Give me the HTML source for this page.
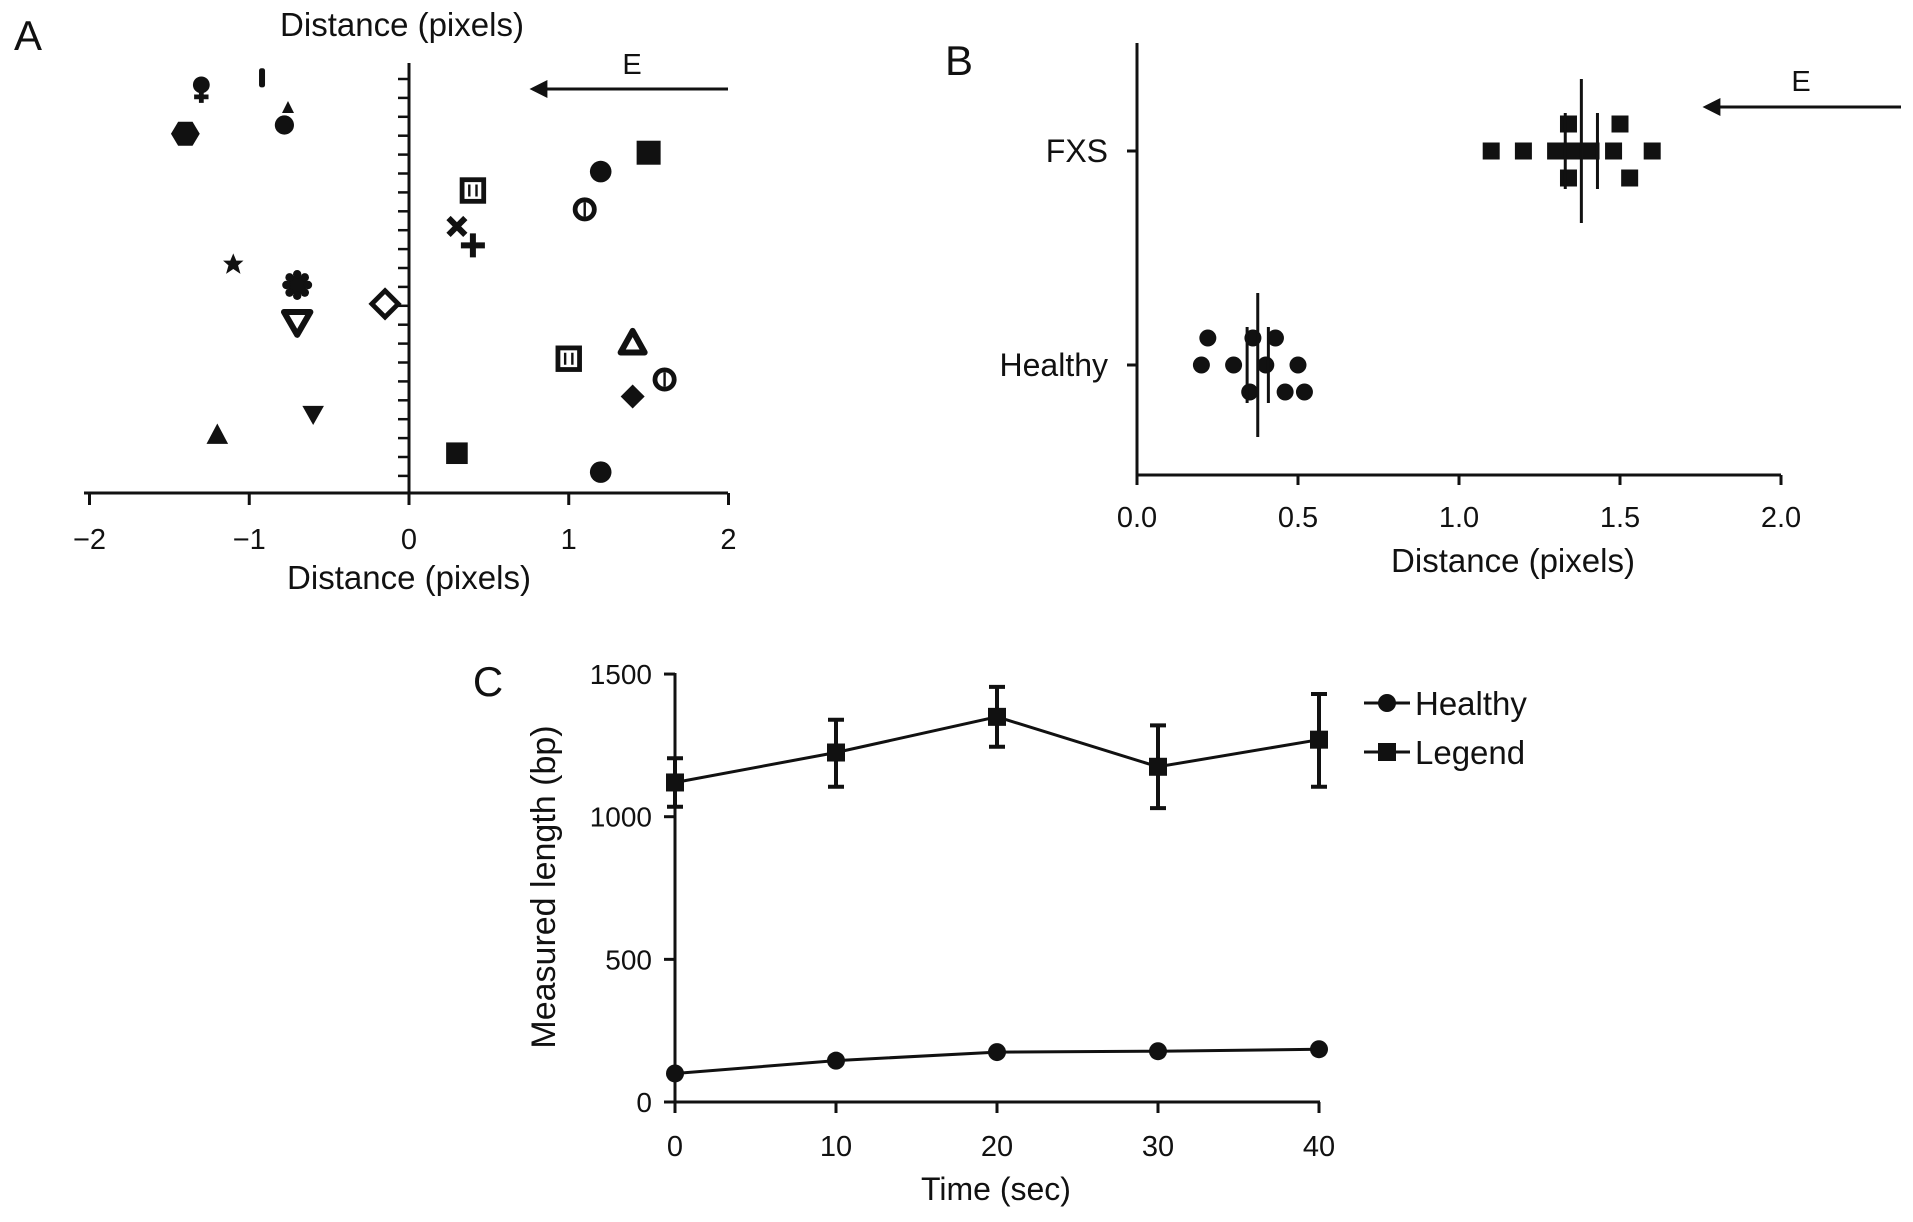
<!DOCTYPE html>
<html><head><meta charset="utf-8"><style>
html,body{margin:0;padding:0;background:#fff;}
svg{display:block;font-family:"Liberation Sans",Arial,sans-serif;}
text{fill:#111;}
</style></head><body>
<svg id="fig" xmlns="http://www.w3.org/2000/svg" width="1913" height="1222" viewBox="0 0 1913 1222">
<defs><marker id="ah" viewBox="0 0 10 10" refX="8" refY="5" markerWidth="6" markerHeight="6" orient="auto"><path d="M0,0 L10,5 L0,10 z" fill="#111"/></marker></defs>
<g id="pa"></g>
<g id="pb"></g>
<g id="pc"></g>
</svg>
<script>
// Panel A data
const aX = [-1.3,-0.92,-0.78,-1.4,-1.1,-0.7,-0.7,-0.15,-0.6,-1.2,1.5,1.2,0.4,1.1,0.3,0.4,1.4,1.0,1.6,1.4,0.3,1.2];
const aY = [0.5,0,1.8,2.9,9.8,10.9,12.9,11.9,17.8,18.8,3.9,4.9,5.9,6.9,7.8,8.8,13.9,14.8,15.9,16.8,19.8,20.8];
const aShape = ['femcircle','bar','club','hex','star','gear','tridownopen','diamondopen','tridown','triup','squaredot','circle','squareopen','circleopen','x','plus','triupopen','squareopen','circleopen','diamond','square','circle'];
const aXTicks = [-2,-1,0,1,2];
// Panel B data
const bCats = ['FXS','Healthy'];
const bFxsX = [1.10,1.20,1.30,1.35,1.41,1.48,1.60,1.34,1.50,1.34,1.53];
const bFxsRow = [0,0,0,0,0,0,0,-1,-1,1,1];
const bHeaX = [0.20,0.30,0.40,0.50,0.22,0.36,0.43,0.35,0.46,0.52];
const bHeaRow = [0,0,0,0,-1,-1,-1,1,1,1];
const bMean = [1.38,0.375];
const bSD = [0.05,0.033];
const bXTicks = [0.0,0.5,1.0,1.5,2.0];
// Panel C data
const cTime = [0,10,20,30,40];
const cHealthy = [100,145,175,178,185];
const cLegend = [1120,1225,1350,1175,1270];
const cLegendLo = [1035,1105,1245,1030,1105];
const cLegendHi = [1205,1340,1455,1320,1430];
const cYTicks = [0,500,1000,1500];

const NS='http://www.w3.org/2000/svg';
function mk(parent,tag,attrs,txt){const e=document.createElementNS(NS,tag);for(const k in attrs)e.setAttribute(k,attrs[k]);if(txt!==undefined)e.textContent=txt;parent.appendChild(e);return e;}
const K='#111';

// ---------- Panel A ----------
const pa=document.getElementById('pa');
const ax=v=>409+v*159.75;
const ay=i=>79+i*18.9;
let t;
t=mk(pa,'text',{x:28,y:50,'font-size':42,'text-anchor':'middle'},'A');

t=mk(pa,'text',{x:402,y:36,'font-size':33,'text-anchor':'middle'},'Distance (pixels)');

t=mk(pa,'text',{x:409,y:589,'font-size':33,'text-anchor':'middle'},'Distance (pixels)');

t=mk(pa,'line',{x1:84,y1:493,x2:728,y2:493,stroke:K,'stroke-width':3});

t=mk(pa,'line',{x1:409,y1:63,x2:409,y2:493,stroke:K,'stroke-width':3});

for(let i=0;i<22;i++){t=mk(pa,'line',{x1:398,y1:ay(i),x2:409,y2:ay(i),stroke:K,'stroke-width':2.5});
}
aXTicks.forEach(v=>{
t=mk(pa,'line',{x1:ax(v),y1:493,x2:ax(v),y2:505,stroke:K,'stroke-width':3});

t=mk(pa,'text',{x:ax(v),y:549,'font-size':29,'text-anchor':'middle'},v<0?'\u2212'+(-v):String(v));

});
t=mk(pa,'line',{x1:728,y1:89,x2:533,y2:89,stroke:K,'stroke-width':3,'marker-end':'url(#ah)'});

t=mk(pa,'text',{x:632,y:74,'font-size':29,'text-anchor':'middle'},'E');


function sym(g0,shape,x,y){
 const g=mk(g0,'g',{transform:`translate(${x},${y}) scale(1.2) translate(${-x},${-y})`});
 const r=9;let e;
 switch(shape){
  case 'circle':e=mk(g,'circle',{cx:x,cy:y,r:r,fill:K});break;
  case 'circleopen':e=mk(g,'g',{});mk(e,'circle',{cx:x,cy:y,r:8,fill:'#fff',stroke:K,'stroke-width':4});mk(e,'line',{x1:x,y1:y-6,x2:x,y2:y+6,stroke:K,'stroke-width':2});break;
  case 'femcircle':e=mk(g,'g',{});mk(e,'circle',{cx:x,cy:y-3,r:7,fill:K});mk(e,'path',{d:`M${x},${y}v12M${x-6},${y+7}h12`,stroke:K,'stroke-width':4});break;
  case 'bar':e=mk(g,'rect',{x:x-2.5,y:y-9,width:5,height:16,rx:2,fill:K});break;
  case 'club':e=mk(g,'g',{});mk(e,'path',{d:`M${x+3},${y-10}l5,10h-10z`,fill:K});mk(e,'circle',{cx:x,cy:y+10,r:8,fill:K});break;
  case 'hex':e=mk(g,'path',{d:`M${x-12},${y}l6,-10h12l6,10l-6,10h-12z`,fill:K});break;
  case 'star':e=mk(g,'path',{d:`M${x},${y-9}l2.5,6h6l-4.5,4l2,7l-6,-4l-6,4l2,-7l-4.5,-4h6z`,fill:K});break;
  case 'gear':e=mk(g,'g',{});mk(e,'circle',{cx:x,cy:y,r:8,fill:K});for(let k=0;k<8;k++){const a=k*Math.PI/4;mk(e,'circle',{cx:x+9*Math.cos(a),cy:y+9*Math.sin(a),r:3.5,fill:K});}break;
  case 'tridownopen':e=mk(g,'path',{d:`M${x-11},${y-9}h22l-11,19z`,fill:'#fff',stroke:K,'stroke-width':5,'stroke-linejoin':'round'});break;
  case 'tridown':e=mk(g,'path',{d:`M${x-9},${y-8}h18l-9,16z`,fill:K});break;
  case 'triup':e=mk(g,'path',{d:`M${x-9},${y+8}h18l-9,-17z`,fill:K});break;
  case 'triupopen':e=mk(g,'path',{d:`M${x-10},${y+9}h20l-10,-18z`,fill:'#fff',stroke:K,'stroke-width':5,'stroke-linejoin':'round'});break;
  case 'diamondopen':e=mk(g,'path',{d:`M${x},${y-11}l11,11l-11,11l-11,-11z`,fill:'#fff',stroke:K,'stroke-width':4});break;
  case 'diamond':e=mk(g,'path',{d:`M${x},${y-10}l10,10l-10,10l-10,-10z`,fill:K});break;
  case 'squaredot':e=mk(g,'rect',{x:x-10,y:y-10,width:20,height:20,fill:K});break;
  case 'square':e=mk(g,'rect',{x:x-9,y:y-9,width:18,height:18,fill:K});break;
  case 'squareopen':e=mk(g,'g',{});mk(e,'rect',{x:x-9,y:y-9,width:18,height:18,fill:'#fff',stroke:K,'stroke-width':4});mk(e,'path',{d:`M${x-3},${y-5}v10M${x+3},${y-5}v10`,stroke:K,'stroke-width':2});break;
  case 'x':e=mk(g,'path',{d:`M${x-7},${y-7}l14,14M${x+7},${y-7}l-14,14`,stroke:K,'stroke-width':5});break;
  case 'plus':e=mk(g,'path',{d:`M${x-10},${y}h20M${x},${y-10}v20`,stroke:K,'stroke-width':5});break;
 }
 return g;
}
aX.forEach((v,i)=>{const e=sym(pa,aShape[i],ax(v),ay(aY[i]));

});

// ---------- Panel B ----------
const pb=document.getElementById('pb');
const bx=v=>1137+v*322;
const by=[151,365];
t=mk(pb,'text',{x:959,y:75,'font-size':42,'text-anchor':'middle'},'B');

t=mk(pb,'line',{x1:1137,y1:43,x2:1137,y2:475,stroke:K,'stroke-width':3});

t=mk(pb,'line',{x1:1137,y1:475,x2:1781,y2:475,stroke:K,'stroke-width':3});

bCats.forEach((c,i)=>{
t=mk(pb,'line',{x1:1127,y1:by[i],x2:1137,y2:by[i],stroke:K,'stroke-width':3});

t=mk(pb,'text',{x:1108,y:by[i]+11,'font-size':32,'text-anchor':'end'},c);

});
bXTicks.forEach(v=>{
t=mk(pb,'line',{x1:bx(v),y1:475,x2:bx(v),y2:485,stroke:K,'stroke-width':3});

t=mk(pb,'text',{x:bx(v),y:527,'font-size':29,'text-anchor':'middle'},v.toFixed(1));

});
t=mk(pb,'text',{x:1513,y:572,'font-size':33,'text-anchor':'middle'},'Distance (pixels)');

t=mk(pb,'line',{x1:1901,y1:107,x2:1706,y2:107,stroke:K,'stroke-width':3,'marker-end':'url(#ah)'});

t=mk(pb,'text',{x:1801,y:91,'font-size':29,'text-anchor':'middle'},'E');

bFxsX.forEach((v,i)=>{
t=mk(pb,'rect',{x:bx(v)-8.5,y:by[0]+bFxsRow[i]*27-8.5,width:17,height:17,fill:K});

});
bHeaX.forEach((v,i)=>{
t=mk(pb,'circle',{cx:bx(v),cy:by[1]+bHeaRow[i]*27,r:8.5,fill:K});

});
bMean.forEach((m,i)=>{
t=mk(pb,'line',{x1:bx(m),y1:by[i]-72,x2:bx(m),y2:by[i]+72,stroke:K,'stroke-width':3});

[m-bSD[i],m+bSD[i]].forEach(s=>{
t=mk(pb,'line',{x1:bx(s),y1:by[i]-38,x2:bx(s),y2:by[i]+38,stroke:K,'stroke-width':3});

});
});

// ---------- Panel C ----------
const pc=document.getElementById('pc');
const cx=v=>675+v*16.1;
const cy=v=>1102-v*0.2853;
t=mk(pc,'text',{x:488,y:696,'font-size':42,'text-anchor':'middle'},'C');

t=mk(pc,'line',{x1:675,y1:673,x2:675,y2:1102,stroke:K,'stroke-width':3});

t=mk(pc,'line',{x1:664,y1:1102,x2:1320,y2:1102,stroke:K,'stroke-width':3});

cYTicks.forEach(v=>{
t=mk(pc,'line',{x1:664,y1:cy(v),x2:675,y2:cy(v),stroke:K,'stroke-width':3});

t=mk(pc,'text',{x:652,y:cy(v)+10,'font-size':28,'text-anchor':'end'},String(v));

});
cTime.forEach(v=>{
t=mk(pc,'line',{x1:cx(v),y1:1102,x2:cx(v),y2:1113,stroke:K,'stroke-width':3});

t=mk(pc,'text',{x:cx(v),y:1156,'font-size':29,'text-anchor':'middle'},String(v));

});
t=mk(pc,'text',{x:996,y:1200,'font-size':32,'text-anchor':'middle'},'Time (sec)');

t=mk(pc,'text',{x:0,y:0,'font-size':34,'text-anchor':'middle',transform:'translate(555,887) rotate(-90)'},'Measured length (bp)');

t=mk(pc,'polyline',{points:cTime.map((v,i)=>cx(v)+','+cy(cLegend[i])).join(' '),fill:'none',stroke:K,'stroke-width':3});

t=mk(pc,'polyline',{points:cTime.map((v,i)=>cx(v)+','+cy(cHealthy[i])).join(' '),fill:'none',stroke:K,'stroke-width':3});

cTime.forEach((v,i)=>{
const x=cx(v);
t=mk(pc,'path',{d:`M${x},${cy(cLegendLo[i])}V${cy(cLegendHi[i])}M${x-8},${cy(cLegendLo[i])}h16M${x-8},${cy(cLegendHi[i])}h16`,stroke:K,'stroke-width':4,fill:'none'});

t=mk(pc,'rect',{x:x-9,y:cy(cLegend[i])-9,width:18,height:18,fill:K});

t=mk(pc,'circle',{cx:x,cy:cy(cHealthy[i]),r:9,fill:K});

});
// legend
let lg=mk(pc,'g',{});


mk(lg,'line',{x1:1364,y1:703,x2:1410,y2:703,stroke:K,'stroke-width':3});
mk(lg,'circle',{cx:1387,cy:703,r:9,fill:K});
mk(lg,'text',{x:1415,y:715,'font-size':33},'Healthy');
lg=mk(pc,'g',{});


mk(lg,'line',{x1:1364,y1:752,x2:1410,y2:752,stroke:K,'stroke-width':3});
mk(lg,'rect',{x:1378,y:743,width:18,height:18,fill:K});
mk(lg,'text',{x:1415,y:764,'font-size':33},'Legend');
</script>
</body></html>
